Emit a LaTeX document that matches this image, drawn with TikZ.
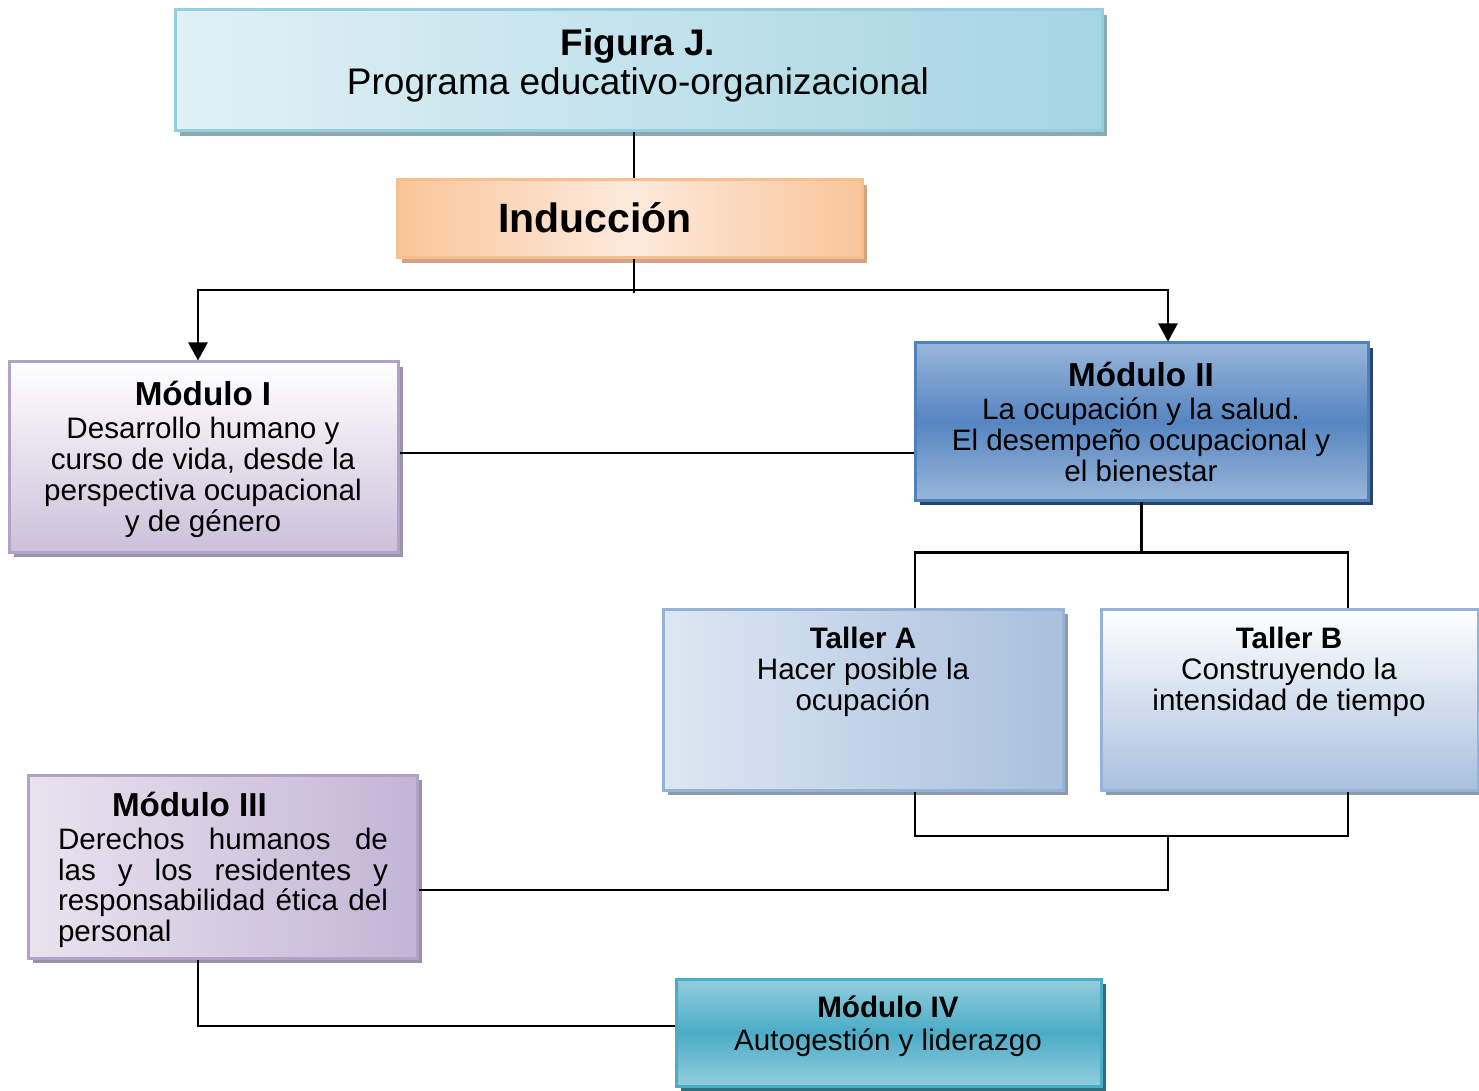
\documentclass[tikz,border=0pt]{standalone}
\usepackage{fontspec}
\setmainfont{Liberation Sans}
\usetikzlibrary{arrows.meta,shadows}

% Farben
\definecolor{titrand}{HTML}{95CEDD}
\definecolor{tithell}{HTML}{E0F0F5}
\definecolor{titdunkel}{HTML}{A6D5E2}
\definecolor{titschatten}{HTML}{8CA8B0}
\definecolor{indrand}{HTML}{F7BE90}
\definecolor{indhell}{HTML}{FDEADC}
\definecolor{inddunkel}{HTML}{F9C59A}
\definecolor{indschatten}{HTML}{D2A484}
\definecolor{lilarand}{HTML}{B3A2C7}
\definecolor{lilahell}{HTML}{E9E3EF}
\definecolor{lilamittel}{HTML}{C3B5D5}
\definecolor{liladunkel}{HTML}{CCC0DA}
\definecolor{lilaschatten}{HTML}{9C92A8}
\definecolor{blaurand}{HTML}{4F81BD}
\definecolor{blauhell}{HTML}{98B6DA}
\definecolor{blaudunkel}{HTML}{5685C1}
\definecolor{blauschatten}{HTML}{2A4566}
\definecolor{tallrand}{HTML}{95B3D7}
\definecolor{tallhell}{HTML}{DDE7F2}
\definecolor{talldunkel}{HTML}{A9C0DE}
\definecolor{tallschatten}{HTML}{8E9AAB}
\definecolor{tuerkrand}{HTML}{4BACC6}
\definecolor{tuerkhell}{HTML}{93CDDD}
\definecolor{tuerkdunkel}{HTML}{4BACC6}
\definecolor{tuerkschatten}{HTML}{2E6E80}

\newcommand{\kopf}[1]{{\fontsize{16.6}{17}\selectfont\bfseries #1}}

\tikzset{
	kasten/.style={line width=1.5pt, inner sep=0pt},
	schatten/.style={drop shadow={shadow xshift=2.5pt, shadow yshift=-2.5pt, opacity=1, fill=#1}},
	schrift/.style={inner sep=0pt, align=center, font=\fontsize{14.8}{15.4}\selectfont},
	linie/.style={line width=1.2pt},
	pfeil/.style={linie, -{Triangle[width=9.5pt,length=9pt]}},
}

\begin{document}
\begin{tikzpicture}[x=0.5pt, y=-0.5pt]
	\useasboundingbox (0,0) rectangle (1479,1091);
	% Kaesten
	\node[kasten, draw=titrand, left color=tithell, right color=titdunkel, schatten=titschatten,
		minimum width=463.5pt, minimum height=60.5pt] (titel) at (638.5,70.5) {};
	\node[kasten, draw=indrand, left color=inddunkel, right color=inddunkel, middle color=indhell,
		schatten=indschatten, minimum width=232.5pt, minimum height=39pt] (ind) at (629.5,219) {};
	\node[kasten, draw=lilarand, top color=white, bottom color=liladunkel, schatten=lilaschatten,
		minimum width=194.5pt, minimum height=95pt] (m1) at (203.5,457) {};
	\node[kasten, draw=blaurand, top color=blauhell, bottom color=blauhell, middle color=blaudunkel,
		schatten=blauschatten, minimum width=226.5pt, minimum height=78.5pt] (m2) at (1141.5,421.5) {};
	\node[kasten, draw=tallrand, left color=tallhell, right color=talldunkel, schatten=tallschatten,
		minimum width=200pt, minimum height=90.5pt] (ta) at (863,699.5) {};
	\node[kasten, draw=tallrand, top color=white, bottom color=talldunkel, schatten=tallschatten,
		minimum width=188.5pt, minimum height=90.5pt] (tb) at (1289.5,699.5) {};
	\node[kasten, draw=lilarand, left color=lilahell, right color=lilamittel, schatten=lilaschatten,
		minimum width=194.5pt, minimum height=91.5pt] (m3) at (222.5,866.5) {};
	\node[kasten, draw=tuerkrand, top color=tuerkhell, bottom color=tuerkhell, middle color=tuerkdunkel,
		schatten=tuerkschatten, minimum width=212.5pt, minimum height=53.5pt] (m4) at (888.5,1032.5) {};

	% Texte
	\node[schrift, font=\fontsize{18.5}{19.5}\selectfont] (titel-t) at (638,65)
		{\textbf{Figura J.}\\Programa educativo-organizacional};
	\node[schrift, font=\fontsize{20.5}{21}\selectfont\bfseries] (ind-t) at (595,218) {Inducción};
	\node[schrift] (m1-t) at (203,459)
		{\kopf{Módulo I}\\[1.5pt]Desarrollo humano y\\curso de vida, desde la\\perspectiva ocupacional\\y de género};
	\node[schrift] (m2-t) at (1141,422)
		{\kopf{Módulo II}\\[1pt]La ocupación y la salud.\\El desempeño ocupacional y\\el bienestar};
	\node[schrift] (ta-t) at (863,672) {\textbf{Taller A}\\Hacer posible la\\ocupación};
	\node[schrift] (tb-t) at (1289,672) {\textbf{Taller B}\\Construyendo la\\intensidad de tiempo};
	\node[schrift, text width=165pt, align=justify] (m3-t) at (223,870)
		{\hspace*{27pt}\kopf{Módulo III}\\[1pt]Derechos humanos de\linebreak las y los residentes y\linebreak
		responsabilidad ética del\linebreak personal};
	\node[schrift] (m4-t) at (888,1026.5) {\textbf{Módulo IV}\\[1pt]Autogestión y liderazgo};

	% Verbindungen
	\coordinate (knoten) at (634,290);
	\coordinate (sammel) at (1168,836);
	\draw[linie] (titel.south -| knoten) -- (ind.north -| knoten);
	\draw[linie] (ind.south -| knoten) -- ([yshift=-1.5pt]knoten);
	\draw[pfeil] (knoten) -| ([xshift=-2.75pt]m1.north);
	\draw[pfeil] (knoten) -| (m2.north -| sammel);
	\draw[linie] ([yshift=2pt]m1.east) -- ([yshift=2pt]m1.east -| m2.west);
	\draw[linie] (m2.south) -- ++(0,51) coordinate (teil);
	\draw[linie] ([xshift=26pt]ta.north) |- (teil) -| ([xshift=29.25pt]tb.north);
	\draw[linie] ([xshift=26pt]ta.south) |- (sammel) -| ([xshift=29.25pt]tb.south);
	\draw[linie] (sammel) |- ([yshift=-11.75pt]m3.east);
	\draw[linie] ([xshift=-12.25pt]m3.south) |- ([yshift=3.25pt]m4.west);
\end{tikzpicture}
\end{document}
